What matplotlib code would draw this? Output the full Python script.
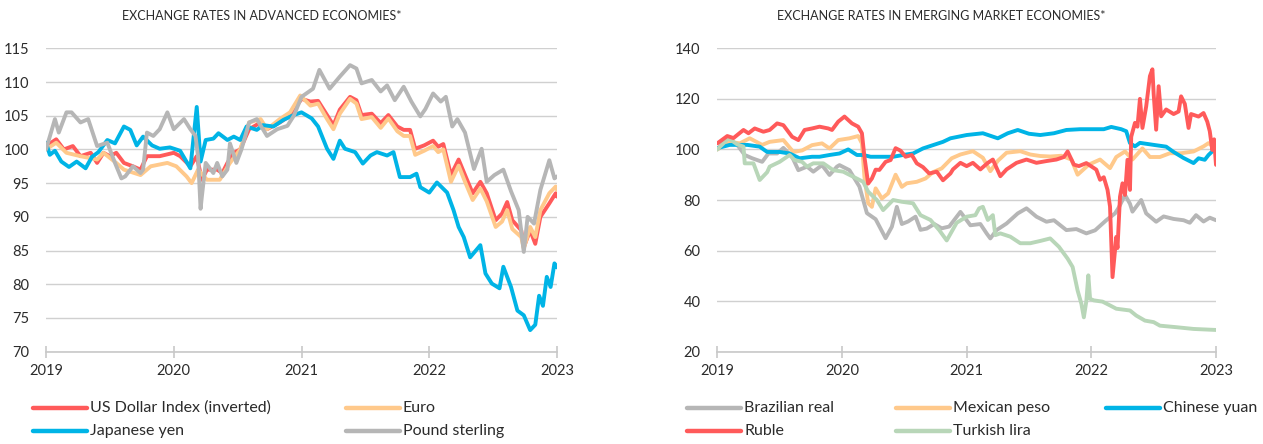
import matplotlib
matplotlib.use('Agg')
import matplotlib.pyplot as plt
import numpy as np
from matplotlib.lines import Line2D

plt.rcParams['font.family'] = ['Lato', 'DejaVu Sans']

# values, (fractional year, index 2019 = 100)
# advanced economies
usd_index = [(2019.00,100.5),(2019.08,101.5),(2019.14,100),(2019.21,100.5),(2019.27,99),(2019.35,99.5),(2019.40,98),
             (2019.45,99.5),(2019.50,99),(2019.55,99.5),(2019.61,98),(2019.68,97.5),(2019.74,97),(2019.79,99),(2019.89,99),
             (2020.00,99.5),(2020.05,99),(2020.13,97.5),(2020.18,99),(2020.22,95.5),(2020.26,97),(2020.34,97),(2020.38,96.5),
             (2020.42,98),(2020.47,99.5),(2020.52,100),(2020.59,103),(2020.68,104),(2020.73,103),(2020.83,104),(2020.91,105),
             (2021.00,107.5),(2021.07,107.1),(2021.13,107.2),(2021.20,105.1),(2021.25,103.6),(2021.30,105.9),(2021.38,107.8),
             (2021.43,107.3),(2021.47,105.1),(2021.55,105.3),(2021.62,103.9),(2021.68,105.1),(2021.75,103.4),(2021.80,102.9),
             (2021.85,102.9),(2021.89,100.1),(2021.96,100.6),(2022.03,101.3),(2022.07,100.4),(2022.11,100.8),(2022.17,96.2),
             (2022.23,98.5),(2022.28,96.2),(2022.34,93.5),(2022.40,95.2),(2022.45,93.5),(2022.52,89.5),(2022.57,90.5),
             (2022.61,92.2),(2022.65,89.5),(2022.72,88),(2022.74,85.5),(2022.79,88),(2022.83,86),(2022.87,90),(2022.94,92),
             (2022.99,93.5),(2023.00,93)]
euro = [(2019.00,100),(2019.08,101),(2019.16,99.5),(2019.27,99),(2019.40,98.5),(2019.45,99.5),(2019.55,98),(2019.61,97),
        (2019.74,96.2),(2019.82,97.5),(2019.95,98),(2020.02,97.5),(2020.10,96),(2020.14,95),(2020.19,97),(2020.26,95.5),
        (2020.36,95.5),(2020.44,98),(2020.52,100),(2020.59,104),(2020.68,104.5),(2020.73,103),(2020.83,104.5),(2020.91,105.5),
        (2020.99,108),(2021.07,106.5),(2021.13,106.8),(2021.20,104.5),(2021.25,103),(2021.30,105.3),(2021.38,107.5),
        (2021.43,106.8),(2021.47,104.5),(2021.55,104.8),(2021.62,103.2),(2021.68,104.6),(2021.75,102.7),(2021.80,102),
        (2021.85,102),(2021.89,99.2),(2021.96,99.8),(2022.03,100.5),(2022.07,99.6),(2022.11,100),(2022.17,95.2),
        (2022.23,97.6),(2022.28,95.2),(2022.34,92.5),(2022.40,94.2),(2022.45,92.3),(2022.52,88.5),(2022.57,89.3),
        (2022.61,91),(2022.65,88.2),(2022.72,87),(2022.74,85.3),(2022.79,88.5),(2022.83,87),(2022.87,91),(2022.94,93.5),
        (2022.99,94.5),(2023.00,94)]
yen = [(2019.00,101),(2019.03,99.2),(2019.07,99.8),(2019.12,98.2),(2019.18,97.4),(2019.24,98.2),(2019.31,97.2),
       (2019.36,98.9),(2019.41,99.6),(2019.48,101.4),(2019.54,100.9),(2019.61,103.4),(2019.66,102.9),(2019.71,100.6),
       (2019.76,101.9),(2019.83,100.6),(2019.89,100.1),(2019.97,100.3),(2020.05,99.8),(2020.13,97.2),(2020.18,106.3),
       (2020.21,98.2),(2020.25,101.4),(2020.31,101.6),(2020.35,102.4),(2020.42,101.4),(2020.47,101.9),(2020.52,101.4),
       (2020.57,103.4),(2020.65,102.9),(2020.70,103.6),(2020.78,103.4),(2020.86,104.4),(2020.94,105.1),(2021.00,105.5),
       (2021.08,104.6),(2021.13,103.4),(2021.20,100.1),(2021.25,98.6),(2021.30,101.3),(2021.34,100.1),(2021.42,99.6),
       (2021.48,97.9),(2021.54,99.1),(2021.59,99.6),(2021.67,99.1),(2021.72,99.6),(2021.77,95.9),(2021.85,95.9),
       (2021.90,96.4),(2021.93,94.4),(2022.00,93.6),(2022.06,95.1),(2022.14,93.6),(2022.19,91),(2022.23,88.5),
       (2022.27,87),(2022.32,84),(2022.40,85.8),(2022.44,81.6),(2022.49,80.1),(2022.55,79.4),(2022.58,82.6),
       (2022.64,79.6),(2022.69,76.1),(2022.74,75.4),(2022.79,73.2),(2022.83,74),(2022.86,78.3),(2022.89,76.8),
       (2022.92,81.1),(2022.95,79.6),(2022.98,83.1),(2023.00,82.5)]
pound = [(2019.00,100),(2019.07,104.5),(2019.10,102.5),(2019.16,105.5),(2019.20,105.5),(2019.27,104),(2019.33,104.5),
         (2019.40,100.5),(2019.48,101),(2019.54,98),(2019.59,95.7),(2019.62,96),(2019.68,97.5),(2019.74,96.5),(2019.76,97),
         (2019.79,102.5),(2019.84,102),(2019.89,103),(2019.95,105.5),(2020.00,103),(2020.08,104.5),(2020.13,103),
         (2020.17,102),(2020.19,99),(2020.21,91.2),(2020.22,93),(2020.25,98),(2020.31,96.5),(2020.34,98),(2020.38,96),
         (2020.42,97),(2020.44,100.9),(2020.49,98),(2020.53,100),(2020.59,104),(2020.65,104.5),(2020.73,102),(2020.81,103),
         (2020.89,103.5),(2020.94,105),(2021.00,107.8),(2021.09,109),(2021.14,111.8),(2021.22,109),(2021.30,110.8),
         (2021.38,112.5),(2021.43,112),(2021.47,109.8),(2021.55,110.3),(2021.62,108.6),(2021.67,109.5),(2021.73,107.3),
         (2021.80,109.3),(2021.86,107.1),(2021.93,104.9),(2021.97,106),(2022.03,108.3),(2022.09,107.1),(2022.13,107.8),
         (2022.18,103.4),(2022.22,104.5),(2022.28,102.5),(2022.35,97.1),(2022.41,100.1),(2022.45,95.2),(2022.51,96.2),
         (2022.58,97),(2022.64,93.8),(2022.70,91),(2022.74,84.8),(2022.77,90),(2022.82,89),(2022.87,94),(2022.94,98.4),
         (2022.98,95.7),(2023.00,96)]

# emerging market economies
real = [(2019.00,100),(2019.08,104.4),(2019.16,101.8),(2019.22,97.8),(2019.28,96.5),(2019.36,95.1),(2019.41,98.4),
        (2019.48,98.4),(2019.53,100.6),(2019.60,97.1),(2019.65,91.8),(2019.72,93.2),(2019.77,91.2),(2019.84,93.8),
        (2019.90,89.9),(2019.96,93.2),(2019.98,93.8),(2020.06,91.8),(2020.14,85.3),(2020.20,74.8),(2020.27,72.4),
        (2020.35,64.9),(2020.40,69.4),(2020.44,77.3),(2020.48,70.5),(2020.53,71.5),(2020.59,73.4),(2020.63,68.2),
        (2020.68,68.7),(2020.74,70.5),(2020.80,68.8),(2020.86,69.5),(2020.95,75.3),(2021.03,70),(2021.11,70.5),
        (2021.16,66.8),(2021.19,64.8),(2021.24,68.1),(2021.32,70.7),(2021.41,74.7),(2021.48,76.7),(2021.56,73.4),
        (2021.64,71.4),(2021.70,72),(2021.80,68.1),(2021.88,68.5),(2021.96,66.8),(2022.03,68),(2022.12,72),(2022.19,74.7),
        (2022.22,77),(2022.27,82),(2022.31,78.5),(2022.33,75.4),(2022.40,80),(2022.44,74.7),(2022.52,71.4),(2022.58,73.5),
        (2022.66,72.5),(2022.74,72),(2022.79,71),(2022.84,74),(2022.90,71.5),(2022.95,73),(2023.00,72)]
peso = [(2019.00,100),(2019.10,103),(2019.18,102.4),(2019.26,104.4),(2019.36,101.8),(2019.42,103),(2019.53,103.7),
        (2019.61,99),(2019.68,99.6),(2019.76,101.7),(2019.84,102.4),(2019.90,100.4),(2019.97,103.7),(2020.06,104.4),
        (2020.13,105.3),(2020.16,102.4),(2020.18,89.2),(2020.21,78.7),(2020.24,77.3),(2020.27,84.6),(2020.32,80.6),
        (2020.37,82.6),(2020.43,90),(2020.48,85.2),(2020.52,86.6),(2020.60,87.2),(2020.67,88.5),(2020.73,91),(2020.80,92.5),
        (2020.88,96.5),(2020.95,98),(2021.05,99.3),(2021.13,96.7),(2021.19,91.4),(2021.25,95.5),(2021.32,98.7),
        (2021.43,99.3),(2021.51,98),(2021.59,97.4),(2021.67,97.2),(2021.76,97.5),(2021.84,96),(2021.89,90),(2021.98,94),
        (2022.07,96),(2022.15,92.6),(2022.20,97),(2022.27,99.2),(2022.33,96),(2022.41,100.4),(2022.47,97),(2022.55,97),
        (2022.63,98.5),(2022.72,98.5),(2022.82,99.2),(2022.90,101.2),(2022.94,102.5),(2022.98,101),(2023.00,100.5)]
yuan = [(2019.00,100.5),(2019.10,101.8),(2019.24,101.8),(2019.34,101.1),(2019.40,99),(2019.50,99),(2019.58,98.4),
        (2019.66,96.5),(2019.76,97.1),(2019.82,97.1),(2019.90,97.8),(2019.98,98.4),(2020.05,100),(2020.12,97.8),
        (2020.17,97.8),(2020.23,97.1),(2020.33,97.1),(2020.41,97.1),(2020.49,97.8),(2020.57,98.4),(2020.65,100.4),
        (2020.73,101.7),(2020.81,103),(2020.87,104.4),(2021.00,105.7),(2021.13,106.4),(2021.25,104.4),(2021.33,106.4),
        (2021.41,107.7),(2021.50,106.2),(2021.59,105.7),(2021.70,106.4),(2021.80,107.7),(2021.91,108),(2022.00,108),
        (2022.10,108),(2022.16,108.9),(2022.24,108),(2022.28,107.2),(2022.31,102.5),(2022.35,101.2),(2022.39,102.6),
        (2022.50,101.8),(2022.60,101.1),(2022.66,99),(2022.74,96.6),(2022.82,94.6),(2022.86,96.5),(2022.91,95.9),
        (2022.94,97.8),(2022.98,99.7),(2023.00,99.5)]
ruble = [(2019.00,102.4),(2019.08,105.3),(2019.13,104.5),(2019.21,107.7),(2019.25,106.4),(2019.30,108.3),(2019.37,107),
         (2019.42,107.7),(2019.48,110.3),(2019.53,109.6),(2019.60,105),(2019.65,103.7),(2019.70,107.7),(2019.76,108.3),
         (2019.82,109),(2019.89,108.3),(2019.92,107.7),(2019.97,111),(2020.02,113),(2020.08,110.3),(2020.13,109),
         (2020.16,106.4),(2020.18,97.1),(2020.21,86.5),(2020.24,88.5),(2020.27,92),(2020.30,91.9),(2020.35,95.1),
         (2020.39,95.8),(2020.43,100.5),(2020.47,99.5),(2020.51,97.1),(2020.56,97.8),(2020.60,94.5),(2020.65,93),
         (2020.70,90.5),(2020.76,91.2),(2020.81,87.8),(2020.87,90.5),(2020.89,92.1),(2020.95,94.7),(2021.00,93.4),
         (2021.05,94.7),(2021.11,92.1),(2021.17,94.7),(2021.21,96),(2021.27,89.4),(2021.32,92.1),(2021.40,94.7),
         (2021.48,96),(2021.56,94.7),(2021.64,95.4),(2021.72,96),(2021.78,97),(2021.81,99.2),(2021.86,94),(2021.90,93.4),
         (2021.96,94.6),(2022.04,92),(2022.07,88),(2022.10,89),(2022.13,84),(2022.15,77.4),(2022.17,49.5),(2022.20,65.4),
         (2022.21,61),(2022.23,81.3),(2022.25,86.6),(2022.27,82),(2022.29,95.9),(2022.31,84),(2022.32,105),(2022.35,110.5),
         (2022.37,109),(2022.39,120),(2022.41,108.5),(2022.44,117),(2022.47,129),(2022.49,131.7),(2022.50,122),
         (2022.52,107.8),(2022.54,125),(2022.56,113.1),(2022.60,115.8),(2022.66,114),(2022.70,115),(2022.72,121),
         (2022.75,118),(2022.78,108.5),(2022.80,114),(2022.86,113),(2022.90,114.4),(2022.93,111),(2022.95,107.2),
         (2022.97,99.8),(2022.985,104),(2023.00,93.9)]
lira = [(2019.00,100),(2019.09,104.4),(2019.16,102),(2019.21,101.1),(2019.22,94.5),(2019.29,94.5),(2019.34,87.9),
        (2019.40,91),(2019.42,93.2),(2019.50,95.1),(2019.58,97.8),(2019.62,95.8),(2019.68,95.1),(2019.72,93.2),
        (2019.77,94.5),(2019.85,94.5),(2019.93,91.8),(2020.01,91.2),(2020.09,89.2),(2020.17,87.2),(2020.21,83.3),
        (2020.28,80),(2020.33,76),(2020.41,80),(2020.48,79.3),(2020.57,78.7),(2020.63,74),(2020.71,72.1),(2020.78,68.1),
        (2020.84,64),(2020.92,71),(2021.00,73.4),(2021.07,74),(2021.10,76.7),(2021.13,77.3),(2021.17,72.1),(2021.21,74),
        (2021.23,66.1),(2021.27,66.8),(2021.35,65.5),(2021.43,62.9),(2021.51,62.9),(2021.59,63.8),(2021.67,64.8),
        (2021.74,61.5),(2021.81,56.8),(2021.85,53.5),(2021.89,44.2),(2021.92,39),(2021.94,33.6),(2021.96,40),
        (2021.976,50.2),(2021.99,40.9),(2022.02,40.3),(2022.09,39.8),(2022.15,38.3),(2022.20,37),(2022.31,36.3),
        (2022.36,34.3),(2022.43,32.3),(2022.50,31.7),(2022.55,30.3),(2022.68,29.7),(2022.82,29),(2023.00,28.6)]

years = [2019, 2020, 2021, 2022, 2023]

RED = '#ff5a5a'
ORANGE = '#ffc98b'
BLUE = '#00b4e6'
GREY = '#b6b6b6'
GREEN = '#b8d6b8'
TXT = '#2b2b2b'

W, H = 1263, 444
fig = plt.figure(figsize=(W / 100, H / 100), dpi=100)
ax1 = fig.add_axes([46 / W, 1 - 351.7 / H, 511 / W, 303.4 / H])
ax2 = fig.add_axes([717.3 / W, 1 - 351.7 / H, 498.7 / W, 303.4 / H])


def style(ax, ylo, yhi, step):
    ax.set_xlim(2019, 2023)
    ax.set_ylim(ylo, yhi)
    ax.set_xticks(years)
    ax.set_xticklabels([str(y) for y in years])
    ax.set_yticks(np.arange(ylo, yhi + 1, step))
    ax.grid(axis='y', color='#d0d0d0', lw=1)
    ax.set_axisbelow(True)
    for s in ['left', 'right', 'top']:
        ax.spines[s].set_visible(False)
    ax.spines['bottom'].set_color('#c8c8c8')
    ax.spines['bottom'].set_linewidth(1.2)
    ax.tick_params(axis='y', length=0, pad=12, labelsize=10.5, labelcolor=TXT)
    ax.tick_params(axis='x', direction='inout', length=8, width=1.2, color='#c8c8c8',
                   pad=5, labelsize=10.5, labelcolor=TXT)


def draw(ax, series, color):
    arr = np.array(series)
    ax.plot(arr[:, 0], arr[:, 1], color=color, lw=2.8, solid_joinstyle='round', solid_capstyle='round')


draw(ax1, usd_index, RED)
draw(ax1, euro, ORANGE)
draw(ax1, yen, BLUE)
draw(ax1, pound, GREY)
style(ax1, 70, 115, 5)

draw(ax2, real, GREY)
draw(ax2, peso, ORANGE)
draw(ax2, yuan, BLUE)
draw(ax2, lira, GREEN)
draw(ax2, ruble, RED)
style(ax2, 20, 140, 20)

fig.text(262 / W, 1 - 16 / H, 'EXCHANGE RATES IN ADVANCED ECONOMIES*', ha='center', va='center',
         fontsize=9, color=TXT)
fig.text(941 / W, 1 - 16 / H, 'EXCHANGE RATES IN EMERGING MARKET ECONOMIES*', ha='center', va='center',
         fontsize=9, color=TXT)


def legend_item(x, y, color, label):
    fig.add_artist(Line2D([x / W, (x + 54) / W], [1 - y / H, 1 - y / H], color=color, lw=3.2,
                          solid_capstyle='round'))
    fig.text((x + 57) / W, 1 - y / H, label, ha='left', va='center', fontsize=11.5, color=TXT)


legend_item(33, 408, RED, 'US Dollar Index (inverted)')
legend_item(346, 408, ORANGE, 'Euro')
legend_item(33, 431, BLUE, 'Japanese yen')
legend_item(346, 431, GREY, 'Pound sterling')

legend_item(687, 408, GREY, 'Brazilian real')
legend_item(896, 408, ORANGE, 'Mexican peso')
legend_item(1106, 408, BLUE, 'Chinese yuan')
legend_item(687, 431, RED, 'Ruble')
legend_item(896, 431, GREEN, 'Turkish lira')

fig.savefig('out.png', dpi=100)
